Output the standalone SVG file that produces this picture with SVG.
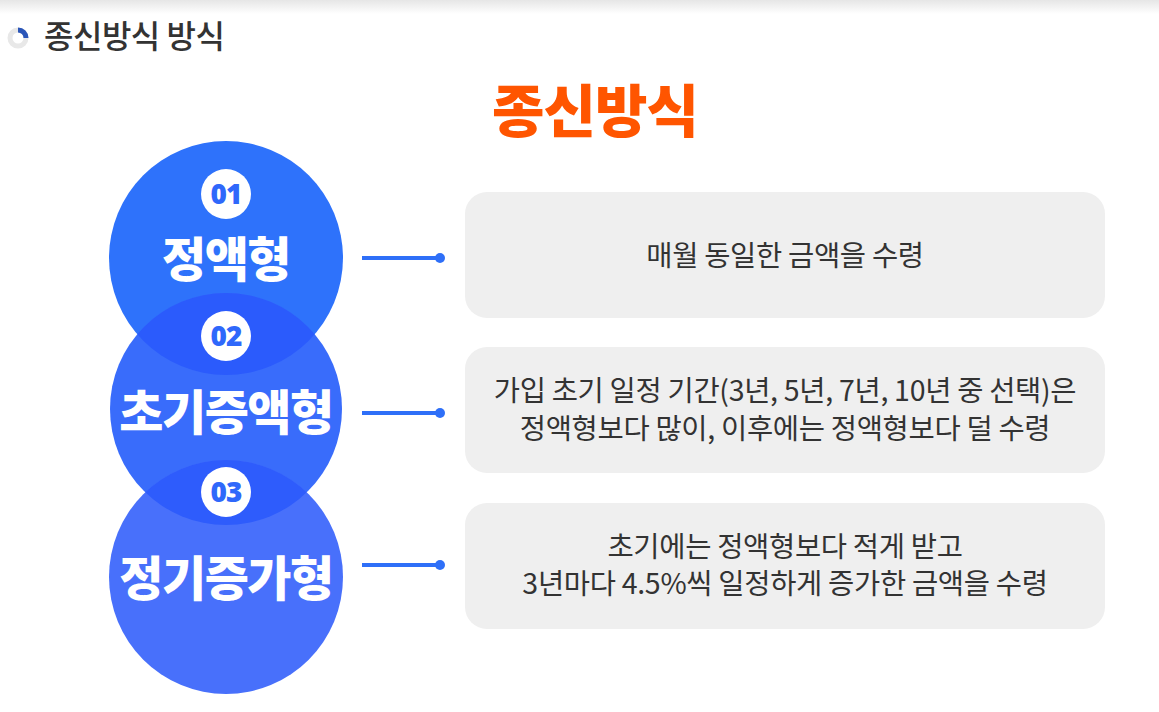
<svg xmlns="http://www.w3.org/2000/svg" width="1159" height="712" viewBox="0 0 1159 712">
<defs>
<linearGradient id="sh" x1="0" y1="0" x2="0" y2="1"><stop offset="0" stop-color="#e6e6e6"/><stop offset="1" stop-color="#ffffff"/></linearGradient>
<clipPath id="c1"><circle cx="226" cy="258" r="117"/></clipPath>
<clipPath id="c2"><circle cx="226" cy="409" r="116"/></clipPath>
<style>
.kr{font-family:"Noto Sans CJK KR","Noto Sans",sans-serif}
.box{fill:#efefef}
.desc{font-size:28.5px;fill:#333;text-anchor:middle;letter-spacing:-0.3px}
.num{font-size:28px;font-weight:900;fill:#2f68fb;text-anchor:middle;font-family:"Noto Sans","Liberation Sans",sans-serif;letter-spacing:-1px}
.lab{font-size:48px;font-weight:900;fill:#fff;text-anchor:middle;letter-spacing:-1.5px}
.ln{stroke:#2e6ff8;stroke-width:4}
</style>
</defs>
<rect width="1159" height="712" fill="#fff"/>
<rect width="1159" height="14" fill="url(#sh)"/>
<g id="header">
<circle cx="18" cy="38" r="8" fill="none" stroke="#e8e8e8" stroke-width="5"/>
<path d="M18 30 A8 8 0 0 1 26 38" fill="none" stroke="#2a55b8" stroke-width="5"/>
<text x="44" y="48" class="kr" font-size="32" font-weight="500" fill="#333" letter-spacing="-0.5">종신방식 방식</text>
</g>
<text id="title" x="595" y="132" class="kr" font-size="57" font-weight="900" fill="#ff5500" text-anchor="middle" letter-spacing="-1">종신방식</text>
<g id="node1">
<circle cx="226" cy="258" r="117" fill="#2e72fb"/>
</g>
<g id="node2">
<circle cx="226" cy="409" r="116" fill="#396cfb"/>
<circle cx="226" cy="409" r="116" fill="#2b5bfc" clip-path="url(#c1)"/>
</g>
<g id="node3">
<circle cx="226" cy="577" r="117" fill="#4870fb"/>
<circle cx="226" cy="577" r="117" fill="#2e5cfc" clip-path="url(#c2)"/>
</g>
<g id="labels">
<circle cx="226" cy="194" r="25" fill="#fff"/><text x="226" y="204" class="num">01</text>
<text x="226" y="277" class="kr lab">정액형</text>
<circle cx="226" cy="336" r="25" fill="#fff"/><text x="226" y="346" class="num">02</text>
<text x="226" y="430" class="kr lab">초기증액형</text>
<circle cx="226" cy="492" r="25" fill="#fff"/><text x="226" y="502" class="num">03</text>
<text x="226" y="596" class="kr lab">정기증가형</text>
</g>
<g id="connectors">
<line x1="362" y1="258" x2="440" y2="258" class="ln"/><circle cx="440" cy="258" r="5" fill="#2e6ff8"/>
<line x1="362" y1="413" x2="440" y2="413" class="ln"/><circle cx="440" cy="413" r="5" fill="#2e6ff8"/>
<line x1="362" y1="565" x2="440" y2="565" class="ln"/><circle cx="440" cy="565" r="5" fill="#2e6ff8"/>
</g>
<g id="box1"><rect x="465" y="192" width="640" height="126" rx="22" class="box"/>
<text x="785" y="266" class="kr desc">매월 동일한 금액을 수령</text></g>
<g id="box2"><rect x="465" y="347" width="640" height="126" rx="22" class="box"/>
<text x="785" y="401" class="kr desc">가입 초기 일정 기간(3년, 5년, 7년, 10년 중 선택)은</text>
<text x="785" y="439" class="kr desc">정액형보다 많이, 이후에는 정액형보다 덜 수령</text></g>
<g id="box3"><rect x="465" y="503" width="640" height="126" rx="22" class="box"/>
<text x="785" y="557" class="kr desc">초기에는 정액형보다 적게 받고</text>
<text x="785" y="594" class="kr desc">3년마다 4.5%씩 일정하게 증가한 금액을 수령</text></g>
</svg>
